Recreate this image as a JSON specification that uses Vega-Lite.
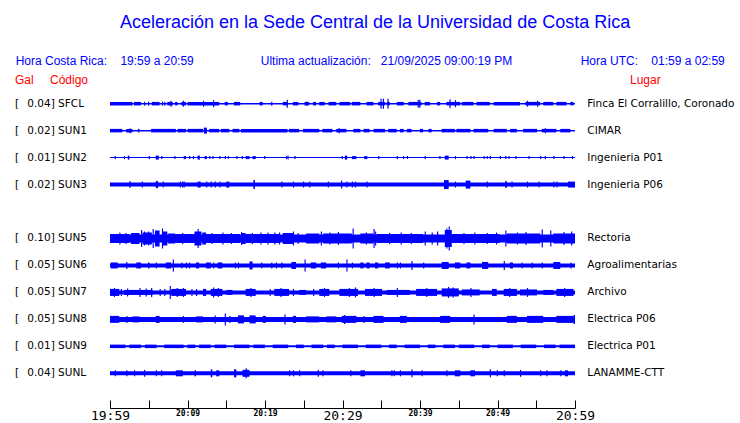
{
"$schema": "https://vega.github.io/schema/vega-lite/v6.json",
"width": 740, "height": 408, "autosize": "none", "padding": {"left": 0, "top": 0, "right": 0, "bottom": 15},
"background": "white",
"config": {"view": {"stroke": null}},
"datasets": {
"st": [
{"r":"SFCL","lab":"0.04] SFCL","loc":"Finca El Corralillo, Coronado"},
{"r":"SUN1","lab":"0.02] SUN1","loc":"CIMAR"},
{"r":"SUN2","lab":"0.01] SUN2","loc":"Ingenieria P01"},
{"r":"SUN3","lab":"0.02] SUN3","loc":"Ingenieria P06"},
{"r":"SUN5","lab":"0.10] SUN5","loc":"Rectoria"},
{"r":"SUN6","lab":"0.05] SUN6","loc":"Agroalimentarias"},
{"r":"SUN7","lab":"0.05] SUN7","loc":"Archivo"},
{"r":"SUN8","lab":"0.05] SUN8","loc":"Electrica P06"},
{"r":"SUN9","lab":"0.01] SUN9","loc":"Electrica P01"},
{"r":"SUNL","lab":"0.04] SUNL","loc":"LANAMME-CTT"}
],
"hdr": [
{"r":"h0","x":34.2,"txt":"Aceleración en la Sede Central de la Universidad de Costa Rica","k":"t"},
{"r":"h1","x":-12.17,"txt":"Hora Costa Rica:\u00a0\u00a0\u00a0 19:59 a 20:59","k":"b"},
{"r":"h1","x":19.45,"txt":"Ultima actualización:\u00a0\u00a0 21/09/2025 09:00:19 PM","k":"b"},
{"r":"h1","x":60.73,"txt":"Hora UTC:\u00a0\u00a0\u00a0 01:59 a 02:59","k":"b"},
{"r":"h2","x":-12.26,"txt":"Gal","k":"r"},
{"r":"h2","x":-7.74,"txt":"Código","k":"r"},
{"r":"h2","x":67.1,"txt":"Lugar","k":"r"}
],
"env": [
{"r":"SFCL","a":0,"b":60,"h":1.5},
{"r":"SFCL","a":0,"b":2.9,"h":3.5},{"r":"SFCL","a":3.1,"b":4.0,"h":3.5},{"r":"SFCL","a":5.4,"b":6.4,"h":3.5},{"r":"SFCL","a":7.4,"b":8.1,"h":3.5},{"r":"SFCL","a":8.4,"b":8.7,"h":3.5},{"r":"SFCL","a":9.2,"b":9.8,"h":3.5},{"r":"SFCL","a":10.0,"b":14.1,"h":3.5},{"r":"SFCL","a":14.8,"b":15.2,"h":3.5},{"r":"SFCL","a":16.0,"b":16.8,"h":3.5},{"r":"SFCL","a":19.3,"b":19.7,"h":3.5},{"r":"SFCL","a":22.3,"b":22.9,"h":3.5},{"r":"SFCL","a":23.6,"b":24.3,"h":3.5},{"r":"SFCL","a":25.1,"b":25.7,"h":3.5},{"r":"SFCL","a":26.2,"b":26.6,"h":3.5},{"r":"SFCL","a":27.0,"b":27.7,"h":3.5},{"r":"SFCL","a":28.2,"b":29.2,"h":3.5},{"r":"SFCL","a":29.6,"b":31.0,"h":3.5},{"r":"SFCL","a":31.2,"b":32.3,"h":3.5},{"r":"SFCL","a":33.1,"b":34.0,"h":3.5},{"r":"SFCL","a":34.6,"b":35.5,"h":3.5},{"r":"SFCL","a":35.7,"b":36.1,"h":3.5},{"r":"SFCL","a":37.0,"b":37.9,"h":3.5},{"r":"SFCL","a":38.5,"b":40.2,"h":3.5},{"r":"SFCL","a":40.6,"b":41.3,"h":3.5},{"r":"SFCL","a":42.2,"b":42.6,"h":3.5},{"r":"SFCL","a":43.4,"b":45.2,"h":3.5},{"r":"SFCL","a":45.4,"b":46.9,"h":3.5},{"r":"SFCL","a":47.3,"b":49.0,"h":3.5},{"r":"SFCL","a":49.5,"b":52.9,"h":3.5},{"r":"SFCL","a":53.6,"b":55.5,"h":3.5},{"r":"SFCL","a":55.9,"b":57.2,"h":3.5},{"r":"SFCL","a":57.6,"b":58.9,"h":3.5},{"r":"SFCL","a":59.4,"b":59.8,"h":3.5},
{"r":"SFCL","a":4.4,"b":4.55,"h":4},{"r":"SFCL","a":4.9,"b":5.05,"h":4},{"r":"SFCL","a":6.7,"b":6.85,"h":4},{"r":"SFCL","a":7.0,"b":7.15,"h":4},{"r":"SFCL","a":20.8,"b":20.95,"h":4},{"r":"SFCL","a":25.3,"b":25.45,"h":4},{"r":"SFCL","a":7.8,"b":7.95,"h":6},{"r":"SFCL","a":9.4,"b":9.55,"h":6},{"r":"SFCL","a":12.0,"b":12.15,"h":6},{"r":"SFCL","a":13.3,"b":13.45,"h":7},{"r":"SFCL","a":22.8,"b":22.95,"h":8},{"r":"SFCL","a":34.9,"b":35.05,"h":10},{"r":"SFCL","a":35.2,"b":35.35,"h":10},{"r":"SFCL","a":35.8,"b":35.95,"h":10},{"r":"SFCL","a":39.7,"b":39.85,"h":8},{"r":"SFCL","a":39.9,"b":40.05,"h":8},{"r":"SFCL","a":43.8,"b":43.95,"h":9},{"r":"SFCL","a":44.5,"b":44.65,"h":7},{"r":"SFCL","a":53.8,"b":53.95,"h":6},{"r":"SFCL","a":55.1,"b":55.25,"h":6},

{"r":"SUN1","a":0,"b":60,"h":1.5},
{"r":"SUN1","a":0,"b":1.6,"h":3.5},{"r":"SUN1","a":2.1,"b":2.9,"h":3.5},{"r":"SUN1","a":3.6,"b":3.8,"h":3.5},{"r":"SUN1","a":5.3,"b":8.5,"h":3.5},{"r":"SUN1","a":8.7,"b":9.8,"h":3.5},{"r":"SUN1","a":10,"b":12,"h":3.5},{"r":"SUN1","a":12.8,"b":14.1,"h":3.5},{"r":"SUN1","a":14.3,"b":15.4,"h":3.5},{"r":"SUN1","a":15.8,"b":16.7,"h":3.5},{"r":"SUN1","a":16.9,"b":22.9,"h":3.5},{"r":"SUN1","a":23.1,"b":24.4,"h":3.5},{"r":"SUN1","a":24.9,"b":27.0,"h":3.5},{"r":"SUN1","a":27.4,"b":28.7,"h":3.5},{"r":"SUN1","a":29.2,"b":30.5,"h":3.5},{"r":"SUN1","a":31.4,"b":32.3,"h":3.5},{"r":"SUN1","a":32.7,"b":33.5,"h":3.5},{"r":"SUN1","a":34.0,"b":35.5,"h":3.5},{"r":"SUN1","a":35.9,"b":37.0,"h":3.5},{"r":"SUN1","a":37.4,"b":37.9,"h":3.5},{"r":"SUN1","a":38.3,"b":38.9,"h":3.5},{"r":"SUN1","a":40.0,"b":40.4,"h":3.5},{"r":"SUN1","a":41.1,"b":41.5,"h":3.5},{"r":"SUN1","a":42.8,"b":44.5,"h":3.5},{"r":"SUN1","a":44.7,"b":46.5,"h":3.5},{"r":"SUN1","a":46.9,"b":48.8,"h":3.5},{"r":"SUN1","a":49.5,"b":51.2,"h":3.5},{"r":"SUN1","a":51.6,"b":52.5,"h":3.5},{"r":"SUN1","a":53.3,"b":55.1,"h":3.5},{"r":"SUN1","a":55.7,"b":57.6,"h":3.5},{"r":"SUN1","a":58.1,"b":59.4,"h":3.5},
{"r":"SUN1","a":12.1,"b":12.5,"h":6},{"r":"SUN1","a":29.5,"b":29.65,"h":5},{"r":"SUN1","a":56.1,"b":56.25,"h":5},{"r":"SUN1","a":2.5,"b":2.65,"h":5},

{"r":"SUN2","a":0,"b":60,"h":1},
{"r":"SUN2","a":0.6,"b":0.75,"h":3},{"r":"SUN2","a":1.8,"b":1.95,"h":3},{"r":"SUN2","a":2.3,"b":2.5,"h":4},{"r":"SUN2","a":5.0,"b":5.15,"h":3},{"r":"SUN2","a":5.9,"b":6.3,"h":4},{"r":"SUN2","a":6.6,"b":6.75,"h":3},{"r":"SUN2","a":8.3,"b":8.45,"h":3},{"r":"SUN2","a":9.5,"b":9.8,"h":3},{"r":"SUN2","a":10.2,"b":10.35,"h":3},{"r":"SUN2","a":10.7,"b":10.85,"h":3},{"r":"SUN2","a":11.3,"b":11.6,"h":4},{"r":"SUN2","a":12.2,"b":12.5,"h":3},{"r":"SUN2","a":12.8,"b":12.95,"h":3},{"r":"SUN2","a":13.2,"b":13.35,"h":3},{"r":"SUN2","a":14.1,"b":14.25,"h":3},{"r":"SUN2","a":14.8,"b":14.95,"h":3},{"r":"SUN2","a":15.2,"b":15.35,"h":3},{"r":"SUN2","a":16.3,"b":16.45,"h":3},{"r":"SUN2","a":17.0,"b":17.15,"h":3},{"r":"SUN2","a":17.5,"b":18.0,"h":3},{"r":"SUN2","a":18.4,"b":18.8,"h":3},{"r":"SUN2","a":19.9,"b":20.05,"h":3},{"r":"SUN2","a":22.7,"b":22.85,"h":3},{"r":"SUN2","a":22.9,"b":23.05,"h":4},{"r":"SUN2","a":23.8,"b":23.95,"h":3},{"r":"SUN2","a":29.9,"b":30.05,"h":3},{"r":"SUN2","a":30.3,"b":30.6,"h":4},{"r":"SUN2","a":31.2,"b":31.8,"h":3},{"r":"SUN2","a":32.8,"b":33.2,"h":3},{"r":"SUN2","a":34.6,"b":34.75,"h":3},{"r":"SUN2","a":37.0,"b":37.15,"h":3},{"r":"SUN2","a":37.8,"b":37.95,"h":3},{"r":"SUN2","a":38.3,"b":38.45,"h":3},{"r":"SUN2","a":40.6,"b":40.75,"h":3},{"r":"SUN2","a":42.5,"b":42.65,"h":3},{"r":"SUN2","a":43.2,"b":43.7,"h":4},{"r":"SUN2","a":44.5,"b":44.65,"h":3},{"r":"SUN2","a":46.0,"b":46.15,"h":3},{"r":"SUN2","a":46.5,"b":46.65,"h":3},{"r":"SUN2","a":46.9,"b":47.05,"h":3},{"r":"SUN2","a":48.2,"b":48.35,"h":3},{"r":"SUN2","a":48.6,"b":48.75,"h":3},{"r":"SUN2","a":49.0,"b":49.15,"h":3},{"r":"SUN2","a":50.3,"b":50.45,"h":3},{"r":"SUN2","a":51.0,"b":51.15,"h":3},{"r":"SUN2","a":51.4,"b":51.55,"h":3},{"r":"SUN2","a":52.3,"b":52.45,"h":3},{"r":"SUN2","a":54.0,"b":54.15,"h":3},{"r":"SUN2","a":55.5,"b":55.65,"h":3},{"r":"SUN2","a":56.1,"b":56.25,"h":3},{"r":"SUN2","a":57.2,"b":57.35,"h":3},{"r":"SUN2","a":58.5,"b":58.65,"h":3},{"r":"SUN2","a":59.6,"b":59.75,"h":3},

{"r":"SUN3","a":0,"b":60,"h":4},
{"r":"SUN3","a":4.1,"b":4.25,"h":6},{"r":"SUN3","a":6.8,"b":6.95,"h":6},{"r":"SUN3","a":9.0,"b":9.15,"h":6},{"r":"SUN3","a":9.3,"b":9.45,"h":6},{"r":"SUN3","a":9.5,"b":9.65,"h":6},{"r":"SUN3","a":12.4,"b":12.55,"h":6},{"r":"SUN3","a":13.0,"b":13.15,"h":6},{"r":"SUN3","a":13.5,"b":13.65,"h":6},{"r":"SUN3","a":14.1,"b":14.25,"h":6},{"r":"SUN3","a":22.1,"b":22.25,"h":6},{"r":"SUN3","a":23.6,"b":23.75,"h":6},{"r":"SUN3","a":24.9,"b":25.05,"h":6},{"r":"SUN3","a":25.7,"b":25.85,"h":6},{"r":"SUN3","a":28.1,"b":28.25,"h":6},{"r":"SUN3","a":30.5,"b":30.65,"h":6},{"r":"SUN3","a":31.2,"b":31.35,"h":6},{"r":"SUN3","a":31.6,"b":31.75,"h":6},{"r":"SUN3","a":33.1,"b":33.25,"h":6},{"r":"SUN3","a":44.5,"b":44.65,"h":6},{"r":"SUN3","a":48.6,"b":48.75,"h":6},{"r":"SUN3","a":51.8,"b":51.95,"h":6},{"r":"SUN3","a":53.8,"b":53.95,"h":6},{"r":"SUN3","a":55.3,"b":55.45,"h":6},{"r":"SUN3","a":57.2,"b":57.35,"h":6},{"r":"SUN3","a":57.6,"b":57.75,"h":6},
{"r":"SUN3","a":2.5,"b":2.65,"h":7},{"r":"SUN3","a":5.9,"b":6.2,"h":7},{"r":"SUN3","a":11.3,"b":11.7,"h":6},{"r":"SUN3","a":15.0,"b":15.4,"h":6},{"r":"SUN3","a":18.5,"b":18.7,"h":9},{"r":"SUN3","a":29.8,"b":29.95,"h":8},{"r":"SUN3","a":43.1,"b":43.7,"h":9},{"r":"SUN3","a":45.9,"b":46.5,"h":8},{"r":"SUN3","a":51.0,"b":51.2,"h":7},{"r":"SUN3","a":59.1,"b":60,"h":6},

{"r":"SUN5","a":0,"b":60,"h":8},
{"r":"SUN5","a":0,"b":2.5,"h":9},{"r":"SUN5","a":2.7,"b":3.8,"h":11},{"r":"SUN5","a":4.0,"b":4.15,"h":17},{"r":"SUN5","a":4.2,"b":5.4,"h":12},{"r":"SUN5","a":4.4,"b":4.55,"h":14},{"r":"SUN5","a":4.9,"b":5.05,"h":14},{"r":"SUN5","a":5.5,"b":5.65,"h":19},{"r":"SUN5","a":5.8,"b":6.4,"h":16},{"r":"SUN5","a":6.7,"b":6.85,"h":20},{"r":"SUN5","a":6.8,"b":7.4,"h":14},{"r":"SUN5","a":7.5,"b":8.4,"h":10},{"r":"SUN5","a":8.4,"b":10.9,"h":9},{"r":"SUN5","a":10.9,"b":11.8,"h":14},{"r":"SUN5","a":11.3,"b":11.45,"h":19},{"r":"SUN5","a":11.9,"b":12.4,"h":12},{"r":"SUN5","a":12.4,"b":16.8,"h":9},{"r":"SUN5","a":16.9,"b":17.05,"h":13},{"r":"SUN5","a":16.9,"b":17.5,"h":11},{"r":"SUN5","a":17.5,"b":21.8,"h":9},{"r":"SUN5","a":19.4,"b":19.55,"h":12},{"r":"SUN5","a":21.2,"b":21.35,"h":12},{"r":"SUN5","a":21.8,"b":21.95,"h":12},{"r":"SUN5","a":22.3,"b":23.6,"h":11},{"r":"SUN5","a":23.6,"b":23.75,"h":14},{"r":"SUN5","a":25.3,"b":27.0,"h":10},{"r":"SUN5","a":27.2,"b":27.35,"h":14},{"r":"SUN5","a":27.5,"b":31.2,"h":10},{"r":"SUN5","a":31.3,"b":31.45,"h":20},{"r":"SUN5","a":32.3,"b":34.0,"h":10},{"r":"SUN5","a":34.0,"b":34.15,"h":19},{"r":"SUN5","a":34.2,"b":34.35,"h":14},{"r":"SUN5","a":34.4,"b":40.4,"h":9},{"r":"SUN5","a":40.6,"b":40.75,"h":14},{"r":"SUN5","a":42.2,"b":42.35,"h":14},{"r":"SUN5","a":43.2,"b":44.1,"h":17},{"r":"SUN5","a":43.4,"b":43.55,"h":20},{"r":"SUN5","a":43.7,"b":43.85,"h":24},{"r":"SUN5","a":44.1,"b":50.3,"h":9},{"r":"SUN5","a":51.0,"b":51.15,"h":16},{"r":"SUN5","a":51.2,"b":55.5,"h":10},{"r":"SUN5","a":55.7,"b":55.85,"h":18},{"r":"SUN5","a":56.8,"b":56.95,"h":16},{"r":"SUN5","a":57.2,"b":60,"h":10},
{"r":"SUN5","a":1.2,"b":1.35,"h":12},{"r":"SUN5","a":2.0,"b":2.15,"h":11},{"r":"SUN5","a":9.3,"b":9.45,"h":11},{"r":"SUN5","a":13.1,"b":13.25,"h":11},{"r":"SUN5","a":14.5,"b":14.65,"h":12},{"r":"SUN5","a":15.6,"b":15.75,"h":11},{"r":"SUN5","a":18.3,"b":18.45,"h":11},{"r":"SUN5","a":20.3,"b":20.45,"h":12},{"r":"SUN5","a":24.2,"b":24.35,"h":11},{"r":"SUN5","a":28.3,"b":28.45,"h":12},{"r":"SUN5","a":29.4,"b":29.55,"h":13},{"r":"SUN5","a":33.0,"b":33.15,"h":12},{"r":"SUN5","a":36.0,"b":36.15,"h":11},{"r":"SUN5","a":37.5,"b":37.65,"h":12},{"r":"SUN5","a":38.8,"b":38.95,"h":11},{"r":"SUN5","a":41.5,"b":41.65,"h":12},{"r":"SUN5","a":45.6,"b":45.75,"h":11},{"r":"SUN5","a":47.0,"b":47.15,"h":12},{"r":"SUN5","a":48.6,"b":48.75,"h":11},{"r":"SUN5","a":49.8,"b":49.95,"h":12},{"r":"SUN5","a":52.5,"b":52.65,"h":12},{"r":"SUN5","a":53.6,"b":53.75,"h":13},{"r":"SUN5","a":58.5,"b":58.65,"h":13},{"r":"SUN5","a":59.5,"b":59.65,"h":14},

{"r":"SUN6","a":0,"b":60,"h":4},
{"r":"SUN6","a":0.1,"b":1.0,"h":6},{"r":"SUN6","a":2.1,"b":2.25,"h":7},{"r":"SUN6","a":3.4,"b":4.0,"h":6},{"r":"SUN6","a":4.9,"b":5.1,"h":6},{"r":"SUN6","a":5.9,"b":6.05,"h":6},{"r":"SUN6","a":7.2,"b":7.9,"h":6},{"r":"SUN6","a":8.1,"b":8.25,"h":12},{"r":"SUN6","a":9.2,"b":9.35,"h":6},{"r":"SUN6","a":9.8,"b":9.95,"h":6},{"r":"SUN6","a":10.2,"b":10.35,"h":6},{"r":"SUN6","a":11.1,"b":11.5,"h":6},{"r":"SUN6","a":12.4,"b":13.0,"h":6},{"r":"SUN6","a":13.3,"b":13.45,"h":6},{"r":"SUN6","a":13.9,"b":14.5,"h":6},{"r":"SUN6","a":16.1,"b":16.25,"h":6},{"r":"SUN6","a":16.5,"b":16.65,"h":6},{"r":"SUN6","a":18.0,"b":18.4,"h":8},{"r":"SUN6","a":19.5,"b":19.65,"h":6},{"r":"SUN6","a":20.8,"b":20.95,"h":6},{"r":"SUN6","a":21.4,"b":21.55,"h":6},{"r":"SUN6","a":22.1,"b":22.25,"h":6},{"r":"SUN6","a":23.4,"b":24.0,"h":7},{"r":"SUN6","a":25.1,"b":25.25,"h":12},{"r":"SUN6","a":25.9,"b":26.6,"h":6},{"r":"SUN6","a":27.2,"b":27.9,"h":6},{"r":"SUN6","a":29.4,"b":29.55,"h":6},{"r":"SUN6","a":30.5,"b":30.65,"h":12},{"r":"SUN6","a":31.2,"b":31.35,"h":6},{"r":"SUN6","a":32.3,"b":32.7,"h":6},{"r":"SUN6","a":33.1,"b":33.5,"h":6},{"r":"SUN6","a":34.2,"b":34.6,"h":6},{"r":"SUN6","a":35.5,"b":36.1,"h":6},{"r":"SUN6","a":37.0,"b":37.15,"h":6},{"r":"SUN6","a":37.4,"b":37.55,"h":6},{"r":"SUN6","a":38.9,"b":39.05,"h":9},{"r":"SUN6","a":40.4,"b":40.55,"h":6},{"r":"SUN6","a":42.8,"b":43.7,"h":7},{"r":"SUN6","a":44.5,"b":45.2,"h":6},{"r":"SUN6","a":46.0,"b":46.5,"h":6},{"r":"SUN6","a":48.0,"b":48.8,"h":7},{"r":"SUN6","a":50.8,"b":50.95,"h":9},{"r":"SUN6","a":51.6,"b":52.0,"h":6},{"r":"SUN6","a":53.1,"b":53.25,"h":6},{"r":"SUN6","a":54.4,"b":54.55,"h":6},{"r":"SUN6","a":55.7,"b":55.85,"h":6},{"r":"SUN6","a":57.2,"b":58.1,"h":7},{"r":"SUN6","a":59.4,"b":59.55,"h":6},

{"r":"SUN7","a":0,"b":60,"h":4},
{"r":"SUN7","a":0,"b":1.2,"h":7},{"r":"SUN7","a":0.5,"b":0.65,"h":9},{"r":"SUN7","a":1.4,"b":1.55,"h":7},{"r":"SUN7","a":1.8,"b":5.5,"h":5},{"r":"SUN7","a":2.2,"b":2.35,"h":8},{"r":"SUN7","a":3.8,"b":3.95,"h":9},{"r":"SUN7","a":4.6,"b":4.75,"h":8},{"r":"SUN7","a":5.3,"b":5.45,"h":9},{"r":"SUN7","a":6.4,"b":6.55,"h":7},{"r":"SUN7","a":7.0,"b":7.15,"h":7},{"r":"SUN7","a":7.7,"b":7.85,"h":13},{"r":"SUN7","a":7.9,"b":9.8,"h":7},{"r":"SUN7","a":8.6,"b":8.75,"h":9},{"r":"SUN7","a":9.4,"b":9.55,"h":9},{"r":"SUN7","a":10.5,"b":10.65,"h":7},{"r":"SUN7","a":11.1,"b":11.25,"h":7},{"r":"SUN7","a":12.0,"b":12.4,"h":7},{"r":"SUN7","a":13.0,"b":14.5,"h":7},{"r":"SUN7","a":13.3,"b":13.45,"h":10},{"r":"SUN7","a":13.9,"b":14.05,"h":9},{"r":"SUN7","a":15.0,"b":15.8,"h":5},{"r":"SUN7","a":17.5,"b":18.8,"h":7},{"r":"SUN7","a":18.1,"b":18.25,"h":9},{"r":"SUN7","a":20.6,"b":20.75,"h":7},{"r":"SUN7","a":21.2,"b":23.1,"h":7},{"r":"SUN7","a":22.0,"b":22.15,"h":9},{"r":"SUN7","a":23.6,"b":23.75,"h":7},{"r":"SUN7","a":24.4,"b":25.3,"h":5},{"r":"SUN7","a":26.2,"b":26.35,"h":7},{"r":"SUN7","a":27.0,"b":28.3,"h":7},{"r":"SUN7","a":27.6,"b":27.75,"h":9},{"r":"SUN7","a":29.6,"b":32.0,"h":7},{"r":"SUN7","a":30.8,"b":30.95,"h":9},{"r":"SUN7","a":31.6,"b":31.75,"h":10},{"r":"SUN7","a":32.9,"b":35.1,"h":7},{"r":"SUN7","a":34.0,"b":34.15,"h":9},{"r":"SUN7","a":35.7,"b":38.7,"h":5},{"r":"SUN7","a":37.0,"b":37.15,"h":9},{"r":"SUN7","a":39.5,"b":42.2,"h":7},{"r":"SUN7","a":40.8,"b":40.95,"h":9},{"r":"SUN7","a":42.8,"b":45.0,"h":8},{"r":"SUN7","a":43.6,"b":43.75,"h":11},{"r":"SUN7","a":44.2,"b":44.35,"h":10},{"r":"SUN7","a":45.4,"b":47.7,"h":6},{"r":"SUN7","a":46.5,"b":46.65,"h":9},{"r":"SUN7","a":49.3,"b":49.9,"h":7},{"r":"SUN7","a":50.8,"b":52.5,"h":7},{"r":"SUN7","a":51.5,"b":51.65,"h":9},{"r":"SUN7","a":52.9,"b":55.1,"h":6},{"r":"SUN7","a":53.8,"b":53.95,"h":9},{"r":"SUN7","a":55.9,"b":57.2,"h":5},{"r":"SUN7","a":57.6,"b":59.8,"h":7},{"r":"SUN7","a":58.6,"b":58.75,"h":9},

{"r":"SUN8","a":0,"b":60,"h":5},
{"r":"SUN8","a":0,"b":1.2,"h":7},{"r":"SUN8","a":2.1,"b":2.25,"h":7},{"r":"SUN8","a":2.9,"b":3.8,"h":6},{"r":"SUN8","a":5.9,"b":6.4,"h":7},{"r":"SUN8","a":9.4,"b":9.55,"h":7},{"r":"SUN8","a":11.1,"b":12.0,"h":6},{"r":"SUN8","a":13.5,"b":13.65,"h":8},{"r":"SUN8","a":14.8,"b":14.95,"h":12},{"r":"SUN8","a":15.4,"b":15.55,"h":7},{"r":"SUN8","a":16.5,"b":17.3,"h":8},{"r":"SUN8","a":18.0,"b":18.8,"h":8},{"r":"SUN8","a":19.7,"b":20.1,"h":7},{"r":"SUN8","a":22.5,"b":22.65,"h":10},{"r":"SUN8","a":23.6,"b":24.0,"h":7},{"r":"SUN8","a":25.3,"b":27.0,"h":6},{"r":"SUN8","a":27.9,"b":29.2,"h":6},{"r":"SUN8","a":29.9,"b":31.8,"h":7},{"r":"SUN8","a":30.2,"b":30.35,"h":9},{"r":"SUN8","a":32.7,"b":32.85,"h":7},{"r":"SUN8","a":34.0,"b":35.3,"h":7},{"r":"SUN8","a":37.4,"b":38.3,"h":7},{"r":"SUN8","a":42.6,"b":43.9,"h":7},{"r":"SUN8","a":46.9,"b":47.05,"h":10},{"r":"SUN8","a":51.2,"b":52.5,"h":7},{"r":"SUN8","a":53.8,"b":55.9,"h":7},{"r":"SUN8","a":57.6,"b":59.8,"h":7},{"r":"SUN8","a":59.8,"b":60,"h":9},

{"r":"SUN9","a":0,"b":60,"h":2},
{"r":"SUN9","a":0,"b":2,"h":3.5},{"r":"SUN9","a":2.5,"b":4,"h":3.5},{"r":"SUN9","a":4.5,"b":6,"h":3.5},{"r":"SUN9","a":7,"b":9.5,"h":3.5},{"r":"SUN9","a":10,"b":11,"h":3.5},{"r":"SUN9","a":11.5,"b":13,"h":3.5},{"r":"SUN9","a":13.5,"b":15,"h":3.5},{"r":"SUN9","a":16,"b":18,"h":3.5},{"r":"SUN9","a":18.5,"b":20,"h":3.5},{"r":"SUN9","a":21,"b":23,"h":3.5},{"r":"SUN9","a":24,"b":25,"h":3.5},{"r":"SUN9","a":26,"b":27.5,"h":3.5},{"r":"SUN9","a":28,"b":29,"h":3.5},{"r":"SUN9","a":30,"b":32,"h":3.5},{"r":"SUN9","a":33,"b":35,"h":3.5},{"r":"SUN9","a":36,"b":37,"h":3.5},{"r":"SUN9","a":38,"b":40,"h":3.5},{"r":"SUN9","a":41,"b":42,"h":3.5},{"r":"SUN9","a":43,"b":44.5,"h":3.5},{"r":"SUN9","a":45,"b":47,"h":3.5},{"r":"SUN9","a":48,"b":49,"h":3.5},{"r":"SUN9","a":50,"b":52,"h":3.5},{"r":"SUN9","a":53,"b":55,"h":3.5},{"r":"SUN9","a":56,"b":57.5,"h":3.5},{"r":"SUN9","a":58,"b":60,"h":3.5},

{"r":"SUNL","a":0,"b":60,"h":4},
{"r":"SUNL","a":0.6,"b":0.75,"h":6},{"r":"SUNL","a":2.1,"b":2.25,"h":6},{"r":"SUNL","a":3.1,"b":3.25,"h":6},{"r":"SUNL","a":5.9,"b":6.05,"h":6},{"r":"SUNL","a":6.6,"b":6.75,"h":6},{"r":"SUNL","a":23.1,"b":23.25,"h":6},{"r":"SUNL","a":23.6,"b":23.75,"h":6},{"r":"SUNL","a":24.4,"b":24.55,"h":6},{"r":"SUNL","a":27.4,"b":27.55,"h":6},{"r":"SUNL","a":31.0,"b":31.15,"h":6},{"r":"SUNL","a":36.3,"b":36.45,"h":6},{"r":"SUNL","a":36.6,"b":36.75,"h":6},{"r":"SUNL","a":37.4,"b":37.55,"h":6},{"r":"SUNL","a":40.2,"b":40.35,"h":6},{"r":"SUNL","a":43.4,"b":43.55,"h":6},{"r":"SUNL","a":49.9,"b":50.05,"h":6},{"r":"SUNL","a":50.8,"b":50.95,"h":6},{"r":"SUNL","a":55.5,"b":55.65,"h":6},{"r":"SUNL","a":56.3,"b":56.45,"h":6},{"r":"SUNL","a":58.1,"b":58.25,"h":6},
{"r":"SUNL","a":4.4,"b":4.55,"h":7},{"r":"SUNL","a":8.5,"b":9.4,"h":6},{"r":"SUNL","a":10.9,"b":11.1,"h":6},{"r":"SUNL","a":13.0,"b":13.2,"h":8},{"r":"SUNL","a":13.7,"b":14.1,"h":6},{"r":"SUNL","a":16.0,"b":16.3,"h":8},{"r":"SUNL","a":17.1,"b":18.0,"h":7},{"r":"SUNL","a":17.5,"b":17.65,"h":10},{"r":"SUNL","a":26.8,"b":26.95,"h":7},{"r":"SUNL","a":32.3,"b":32.9,"h":6},{"r":"SUNL","a":38.9,"b":39.05,"h":8},{"r":"SUNL","a":44.5,"b":45.2,"h":6},{"r":"SUNL","a":46.5,"b":47.1,"h":6},{"r":"SUNL","a":49.0,"b":49.15,"h":8},{"r":"SUNL","a":52.9,"b":53.05,"h":7},{"r":"SUNL","a":58.7,"b":59.1,"h":6}
]
},
"encoding": {
  "y": {"field": "r", "type": "nominal", "axis": null,
        "scale": {"type": "band", "domain": ["h0","h1","h2","SFCL","SUN1","SUN2","SUN3","gap","SUN5","SUN6","SUN7","SUN8","SUN9","SUNL"],
                  "range": [9.3, 386.8], "paddingInner": 0, "paddingOuter": 0}}
},
"resolve": {"axis": {"x": "independent"}},
"layer": [
  {"data": {"name": "env"},
   "mark": {"type": "bar", "color": "#0000ff"},
   "encoding": {
     "x": {"field": "a", "type": "quantitative",
           "scale": {"domain": [0, 60], "range": [110, 575], "nice": false, "zero": false},
           "axis": {"values": [0,5,10,15,20,25,30,35,40,45,50,55,60], "title": null, "grid": false,
                    "domainColor": "black", "tickColor": "black", "tickSize": -8, "tickWidth": 1, "domainWidth": 1,
                    "labelExpr": "datum.value % 10 == 0 ? format(floor((1199 + datum.value) / 60), '02d') + ':' + format((1199 + datum.value) % 60, '02d') : ''",
                    "labelFont": "DejaVu Sans Mono",
                    "labelFontSize": {"condition": {"test": "datum.value % 30 == 0", "value": 13}, "value": 8},
                    "labelFontWeight": {"condition": {"test": "datum.value % 30 != 0", "value": "bold"}, "value": "normal"},
                    "labelColor": "black", "labelFlush": false, "labelOverlap": false, "labelBound": false,
                    "labelPadding": 9.5, "labelBaseline": "top"}},
     "x2": {"field": "b"},
     "size": {"field": "h", "type": "quantitative", "scale": {"domain": [0, 30], "range": [0, 30]}, "legend": null}
   }},
  {"data": {"name": "st"},
   "mark": {"type": "text", "align": "left", "baseline": "middle", "font": "DejaVu Sans", "fontSize": 10.5, "color": "black"},
   "encoding": {"x": {"datum": -12.26, "type": "quantitative", "scale": {"domain": [0, 60], "range": [110, 575], "nice": false, "zero": false}, "axis": null},
                "text": {"value": "["}}},
  {"data": {"name": "st"},
   "mark": {"type": "text", "align": "left", "baseline": "middle", "font": "DejaVu Sans", "fontSize": 10.5, "color": "black"},
   "encoding": {"x": {"datum": -10.67, "type": "quantitative", "scale": {"domain": [0, 60], "range": [110, 575], "nice": false, "zero": false}, "axis": null},
                "text": {"field": "lab"}}},
  {"data": {"name": "st"},
   "mark": {"type": "text", "align": "left", "baseline": "middle", "font": "DejaVu Sans", "fontSize": 10.5, "color": "black"},
   "encoding": {"x": {"datum": 61.59, "type": "quantitative", "scale": {"domain": [0, 60], "range": [110, 575], "nice": false, "zero": false}, "axis": null},
                "text": {"field": "loc"}}},
  {"data": {"name": "hdr"},
   "transform": [{"filter": "datum.k == 't'"}],
   "mark": {"type": "text", "align": "center", "baseline": "middle", "font": "Liberation Sans", "fontSize": 18, "color": "#0000ff"},
   "encoding": {"x": {"field": "x", "type": "quantitative", "scale": {"domain": [0, 60], "range": [110, 575], "nice": false, "zero": false}, "axis": null},
                "text": {"field": "txt"}}},
  {"data": {"name": "hdr"},
   "transform": [{"filter": "datum.k == 'b'"}],
   "mark": {"type": "text", "align": "left", "baseline": "middle", "font": "Liberation Sans", "fontSize": 12, "color": "#0000ff", "dy": 11},
   "encoding": {"x": {"field": "x", "type": "quantitative", "scale": {"domain": [0, 60], "range": [110, 575], "nice": false, "zero": false}, "axis": null},
                "text": {"field": "txt"}}},
  {"data": {"name": "hdr"},
   "transform": [{"filter": "datum.k == 'r'"}],
   "mark": {"type": "text", "align": "left", "baseline": "middle", "font": "Liberation Sans", "fontSize": 12, "color": "#ff0000", "dy": 3},
   "encoding": {"x": {"field": "x", "type": "quantitative", "scale": {"domain": [0, 60], "range": [110, 575], "nice": false, "zero": false}, "axis": null},
                "text": {"field": "txt"}}}
]
}
